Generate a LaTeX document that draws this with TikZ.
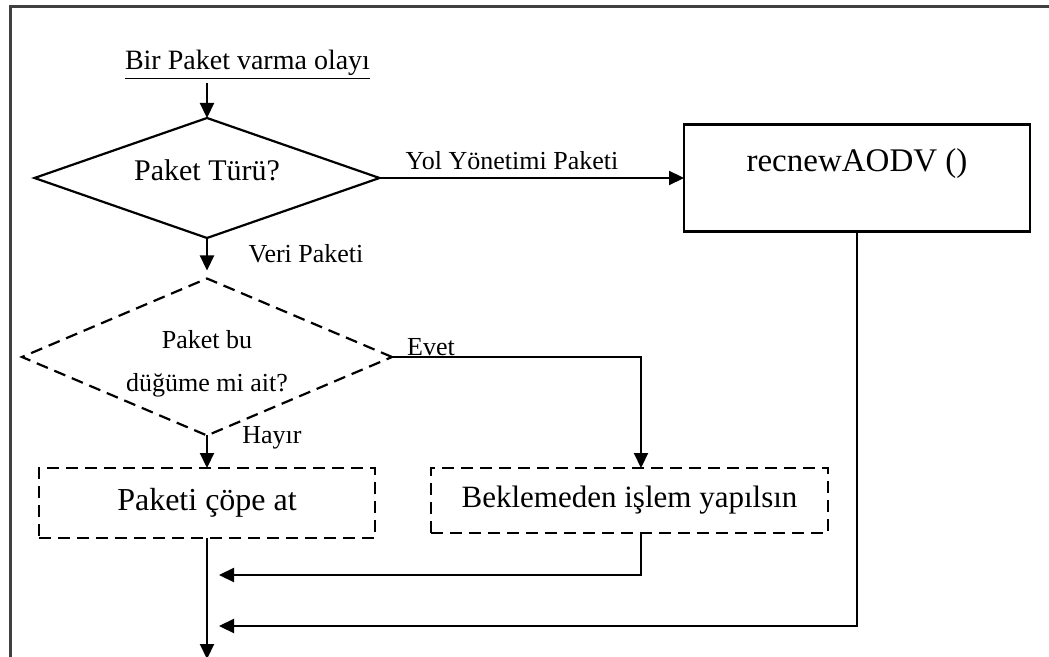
\documentclass[tikz,border=0pt]{standalone}
\usepackage{fontspec}
\setmainfont{Liberation Serif}
\usetikzlibrary{shapes.geometric,arrows.meta}

\begin{document}
\begin{tikzpicture}[x=0.5pt, y=-0.5pt,
    line width=1.1pt,
    >={Triangle[length=7.5pt,width=7pt]},
    karar/.style={diamond, draw, inner sep=0pt, outer sep=0pt},
    kutu/.style={rectangle, draw, inner sep=0pt, outer sep=0pt},
    kesik/.style={dash pattern=on 6pt off 3.5pt},
    etiket/.style={font=\fontsize{13}{15}\selectfont, inner sep=0pt}]
    \useasboundingbox (0,0) rectangle (1049,657);
    % outer frame, cut off at the right and at the bottom
    \draw[black!75, line width=1.5pt] (10,670) -- (10,7) -- (1060,7);
    % start event
    \node[etiket, font=\fontsize{14}{16}\selectfont, anchor=base, inner sep=1pt] (olay) at (247.5,70) {\underline{Bir Paket varma olayı}};
    % decisions
    \node[karar, aspect=2.875, minimum width=172.5pt, minimum height=60pt,
          font=\fontsize{15}{17}\selectfont, text height=10pt, text depth=7pt] (tur) at (207,178) {Paket Türü?};
    \node[karar, kesik, aspect=2.36, minimum width=185pt, minimum height=78.5pt,
          font=\fontsize{13}{15}\selectfont] (ait) at (207,357)
          {\raisebox{-3.5pt}[\height][\depth]{\begin{tabular}{@{}c@{}}Paket bu\\[6.5pt]düğüme mi ait?\end{tabular}}};
    % boxes
    \node[kutu, minimum width=173pt, minimum height=53.5pt, font=\fontsize{16.5}{18}\selectfont,
          text height=12pt, text depth=18.5pt] (aodv) at (857,178) {recnewAODV ()};
    \node[kutu, kesik, minimum width=168pt, minimum height=35pt, font=\fontsize{16}{18}\selectfont] (cop) at (207,503) {Paketi çöpe at};
    \node[kutu, kesik, minimum width=198.5pt, minimum height=32.5pt, font=\fontsize{15.5}{18}\selectfont] (bekle) at (629.5,500.5) {Beklemeden işlem yapılsın};
    % branch labels
    \node[etiket] (lyol) at (512,161) {Yol Yönetimi Paketi};
    \node[etiket] (lveri) at (306,254) {Veri Paketi};
    \node[etiket] (levet) at (431,347) {Evet};
    \node[etiket] (lhayir) at (272,438) {Hayır};
    % free ends
    \coordinate (birles1) at (219,575);
    \coordinate (birles2) at (219,626);
    \coordinate (cikis) at (207,659);
    % connectors
    \draw[->] (olay.south -| tur.north) -- (tur.north);
    \draw[->] (tur.east) -- (aodv.west);
    \draw[->, shorten >=4pt] (tur.south) -- (ait.north);
    \draw[->] (ait.south) -- (cop.north);
    \draw[->] (ait.east) -| ([xshift=5.75pt]bekle.north);
    \draw[->] ([xshift=5.75pt]bekle.south) |- (birles1);
    \draw[->] (aodv.south) |- (birles2);
    \draw[->] (cop.south) -- (cikis);
\end{tikzpicture}
\end{document}
